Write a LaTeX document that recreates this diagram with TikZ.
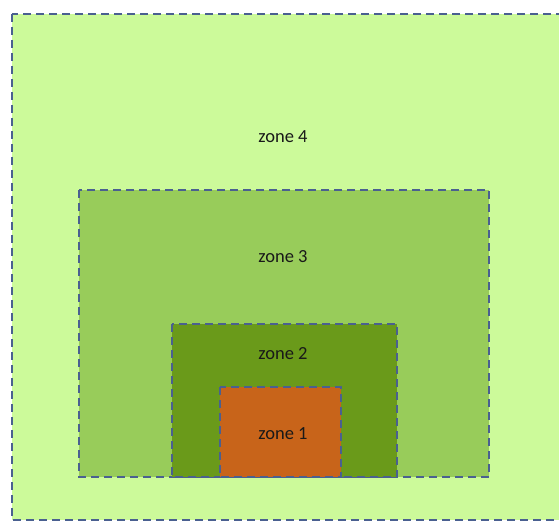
\documentclass[tikz,border=0pt]{standalone}
\usepackage{fontspec}
\setmainfont{Carlito}
\definecolor{zfour}{HTML}{CCFA9A}
\definecolor{zthree}{HTML}{98CC5A}
\definecolor{ztwo}{HTML}{6A9A1A}
\definecolor{zone}{HTML}{C8641A}
\definecolor{dashc}{HTML}{4A6090}
\tikzset{
  zonebox/.style={draw=dashc, line width=2.2pt, dash pattern=on 8pt off 5pt},
  zlabel/.style={font=\fontsize{18.5}{20}\selectfont, text=black!90, inner sep=0pt}
}
\begin{document}
\begin{tikzpicture}[x=1pt,y=-1pt]
\useasboundingbox (0,0) rectangle (559,521);
\fill[white] (0,0) rectangle (559,521);
\begin{scope}
\clip (0,0) rectangle (559,521);
\filldraw[zonebox, fill=zfour] (12,14) rectangle (575,520);
\end{scope}
\filldraw[zonebox, fill=zthree] (79,190) rectangle (489,477);
\filldraw[zonebox, fill=ztwo] (172,324) rectangle (397,477);
\filldraw[zonebox, fill=zone] (220,387) rectangle (341,477);
\node[zlabel] (z4) at (283,137) {zone 4};
\node[zlabel] (z3) at (283,257) {zone 3};
\node[zlabel] (z2) at (283,354) {zone 2};
\node[zlabel] (z1) at (283,434) {zone 1};
\end{tikzpicture}
\end{document}
